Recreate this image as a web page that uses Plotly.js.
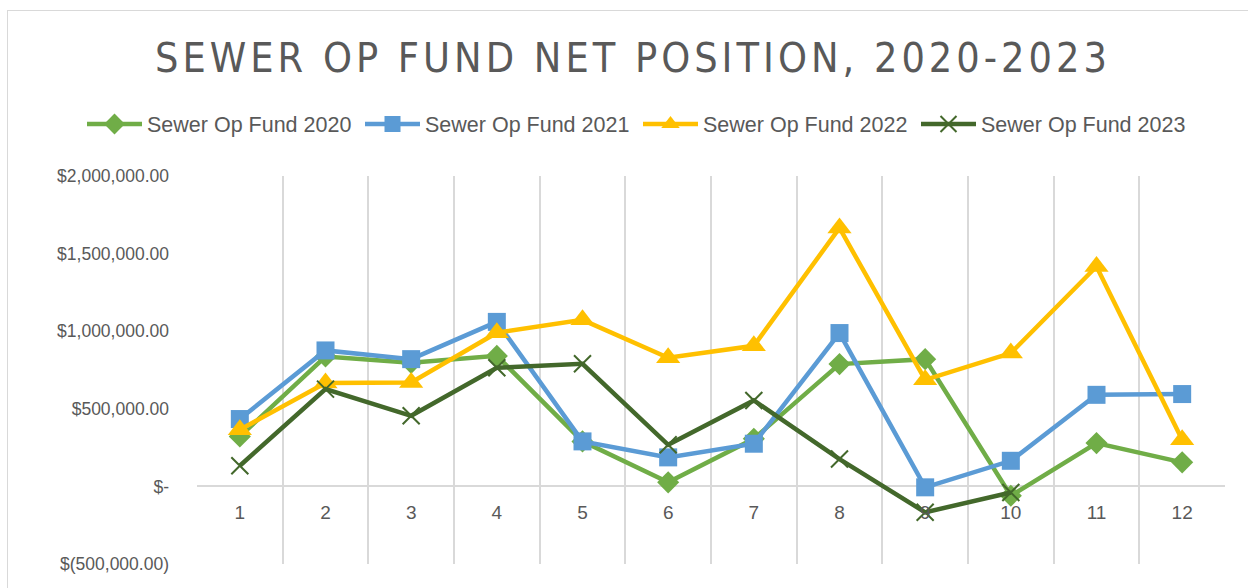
<!DOCTYPE html>
<html>
<head>
<meta charset="utf-8">
<script src="https://cdn.plot.ly/plotly-3.0.1.min.js"></script>
<style>
  html, body { margin: 0; padding: 0; background: #fff; }
  #wrap { position: relative; width: 1248px; height: 588px; overflow: hidden; }
  #chart { width: 1248px; height: 588px; }
  #frame { position: absolute; left: 7px; top: 10px; width: 1300px; height: 700px;
           border-left: 1px solid #d9d9d9; border-top: 1px solid #d9d9d9; pointer-events: none; }
  .gtitle { letter-spacing: 4px; font-stretch: condensed; }
</style>
</head>
<body>
<div id="wrap">
  <div id="chart"></div>
  <div id="frame"></div>
</div>
<script>
const months = ['1','2','3','4','5','6','7','8','9','10','11','12'];
const fund2020 = [322000, 837000, 796000, 841000, 290000, 26000, 307000, 788000, 820000, -60000, 279000, 155000];
const fund2021 = [434000, 876000, 820000, 1060000, 290000, 187000, 275000, 988000, -6000, 165000, 590000, 595000];
const fund2022 = [365000, 666000, 670000, 990000, 1073000, 829000, 906000, 1665000, 687000, 859000, 1417000, 300000];
const fund2023 = [133000, 627000, 455000, 764000, 790000, 268000, 554000, 176000, -167000, -39000];
const seriesNames = ['Sewer Op Fund 2020', 'Sewer Op Fund 2021', 'Sewer Op Fund 2022', 'Sewer Op Fund 2023'];
const yTickVals = [-500000, 0, 500000, 1000000, 1500000, 2000000];
const yTickText = ['$(500,000.00)', '$-', '$500,000.00', '$1,000,000.00', '$1,500,000.00', '$2,000,000.00'];

const txt = '#595959';
const traces = [
  { x: months, y: fund2020, name: seriesNames[0], type: 'scatter', mode: 'lines+markers',
    line: { color: '#70AD47', width: 4.5 },
    marker: { symbol: 'diamond', size: 17, color: '#70AD47' } },
  { x: months, y: fund2021, name: seriesNames[1], type: 'scatter', mode: 'lines+markers',
    line: { color: '#5B9BD5', width: 4.5 },
    marker: { symbol: 'square', size: 18, color: '#5B9BD5' } },
  { x: months, y: fund2022, name: seriesNames[2], type: 'scatter', mode: 'lines+markers',
    line: { color: '#FFC000', width: 4.5 },
    marker: { symbol: 'triangle-up', size: 21, color: '#FFC000' } },
  { x: months.slice(0, fund2023.length), y: fund2023, name: seriesNames[3], type: 'scatter', mode: 'lines+markers',
    line: { color: '#43682B', width: 4.5 },
    marker: { symbol: 'x-thin', size: 17, color: '#43682B', line: { color: '#43682B', width: 2 } } }
];

const layout = {
  width: 1248, height: 588,
  margin: { l: 197, r: 23, t: 176, b: 24 },
  paper_bgcolor: '#ffffff', plot_bgcolor: '#ffffff',
  title: {
    text: 'SEWER OP FUND NET POSITION, 2020-2023',
    font: { family: 'DejaVu Sans, sans-serif', size: 41, color: txt },
    x: 633 / 1248, xanchor: 'center', xref: 'container', y: 1 - 58 / 588, yanchor: 'middle', yref: 'container'
  },
  showlegend: true,
  legend: {
    orientation: 'h', x: (82 - 197) / 1028, xanchor: 'left', xref: 'paper',
    y: (564 - 124) / 388, yanchor: 'middle', yref: 'paper',
    font: { family: 'Liberation Sans, Arial, sans-serif', size: 21.5, color: txt },
    itemwidth: 55, entrywidth: 208, entrywidthmode: 'pixels', tracegroupgap: 0, traceorder: 'normal'
  },
  xaxis: {
    type: 'category', range: [-0.5, 11.5], tickson: 'boundaries',
    showgrid: true, gridcolor: '#d9d9d9', gridwidth: 2,
    anchor: 'free', position: 0.2, showline: false, zeroline: false,
    ticks: '', ticklabelstandoff: 13,
    tickfont: { family: 'Liberation Sans, Arial, sans-serif', size: 19, color: txt }
  },
  yaxis: {
    range: [-500000, 2000000], tickmode: 'array', tickvals: yTickVals, ticktext: yTickText,
    showgrid: false, zeroline: true, zerolinecolor: '#d9d9d9', zerolinewidth: 2,
    showline: false, ticks: '', ticklabelstandoff: 27,
    tickfont: { family: 'Liberation Sans, Arial, sans-serif', size: 17.5, color: txt }
  },
  hovermode: false
};

Plotly.newPlot('chart', traces, layout, { staticPlot: true, displayModeBar: false });
</script>
</body>
</html>
